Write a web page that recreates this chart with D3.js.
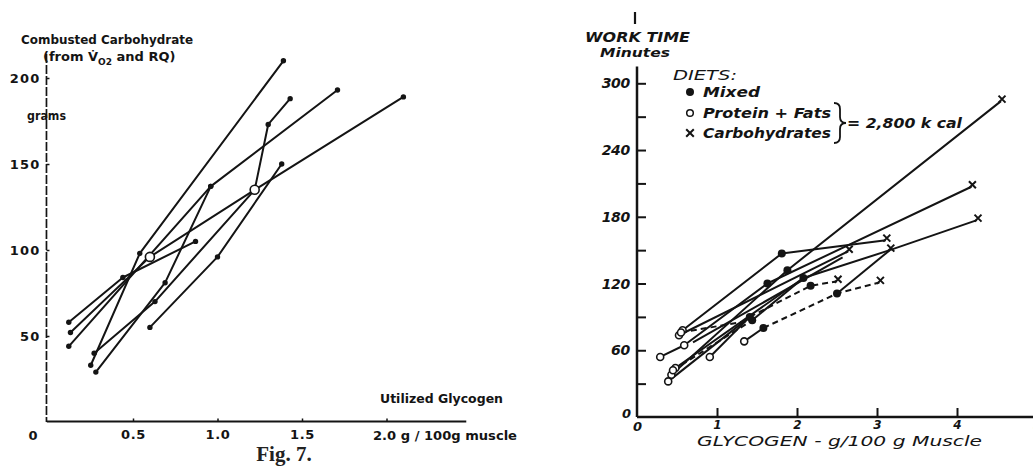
<!DOCTYPE html>
<html><head><meta charset="utf-8">
<script src="https://cdn.jsdelivr.net/npm/d3@7"></script>
<style>
html,body{margin:0;padding:0;background:#fff;}
svg{display:block;}
</style></head><body>
<svg id="c" width="1033" height="476"></svg>
<script>
// ================= LEFT PANEL (Fig. 7) =================
const leftXTicks = [0.5, 1.0, 1.5, 2.0];
const leftXTickLabels = ["0.5", "1.0", "1.5", ""];
const leftYTicks = [50, 100, 150, 200];
// Combusted carbohydrate (grams) vs utilized glycogen (g/100 g muscle)
const leftS1 = [[0.25, 33], [0.54, 98], [1.39, 210]];
const leftS2 = [[0.12, 44], [0.96, 137], [1.71, 193]];
const leftS3 = [[0.12, 58], [0.44, 84], [0.87, 105]];
const leftS4 = [[0.13, 52], [0.60, 96], [1.22, 135], [2.10, 189]];
const leftS5 = [[0.60, 55], [1.00, 96], [1.38, 150]];
const leftS6 = [[0.27, 40], [0.63, 70], [1.22, 135], [1.30, 173], [1.43, 188]];
const leftS7 = [[0.28, 29], [0.69, 81], [0.96, 137]];
const leftSeries = [leftS1, leftS2, leftS3, leftS4, leftS5, leftS6, leftS7];
const leftOpenPoints = [[0.60, 96], [1.22, 135]];

// ================= RIGHT PANEL =================
const rightXTicks = [1, 2, 3, 4, 5];
const rightYTicks = [30, 60, 90, 120, 150, 180, 210, 240, 270, 300];
const rightYLabels = [60, 120, 180, 240, 300];
const dietLabels = ["Mixed", "Protein + Fats", "Carbohydrates"];
// [glycogen, work time, diet]  p = protein+fats, m = mixed, c = carbohydrates
const subjA = [[0.57, 78, "p"], [1.81, 147, "m"], [3.11, 159, "c"]];
const subjB = [[0.43, 38, "p"], [1.88, 132, "m"], [4.55, 284, "c"]];
const subjC = [[0.29, 54, "p"], [0.59, 64.5, "p"], [1.63, 120, "m"], [4.18, 207, "c"]];
const subjD = [[0.525, 73.5, "p"], [2.64, 149, "c"]];
const subjE = [[0.70, 67, null], [2.57, 143.5, null]];
const subjF = [[0.48, 44, "p"], [2.08, 125, "m"], [3.16, 150, "c"], [4.25, 177, "c"]];
const subjG1 = [[1.34, 68, "p"], [1.58, 80, "m"]];
const subjG2 = [[1.58, 80, null], [2.50, 111, "m"], [3.03, 121, "c"]];
const subjH = [[2.50, 111, null], [3.16, 150, null]];
const subjI1 = [[0.91, 54, "p"], [1.41, 90, "m"]];
const subjI2 = [[1.41, 90, null], [2.17, 118, "m"], [2.50, 122, "c"]];
const subjJ1 = [[0.55, 76, "p"], [1.44, 87, "m"]];
const subjJ2 = [[1.44, 87, null], [2.08, 125, null]];
const subjK = [[0.39, 32, "p"], [1.41, 90, null]];
const subjL = [[0.45, 42, "p"], [1.44, 87, null]];
const rightSolid = [subjA, subjB, subjC, subjD, subjE, subjF, subjG1, subjH, subjI1, subjJ2, subjK];
const rightDashed = [subjG2, subjI2, subjJ1, subjL];

const svg = d3.select("#c");
const ink = "#141414";

// ---------- left scales ----------
const xL = d3.scaleLinear().domain([0, 2.5]).range([48.5, 471]);
const yL = d3.scaleLinear().domain([0, 200]).range([422, 78]);
const gL = svg.append("g");
const LF = "'DejaVu Sans', sans-serif";

gL.append("line").attr("x1", xL(-0.01)).attr("x2", xL(2.472)).attr("y1", yL(0.3)).attr("y2", yL(0.3))
  .attr("stroke", ink).attr("stroke-width", 2);
gL.append("line").attr("x1", xL(-0.012)).attr("x2", xL(-0.012)).attr("y1", yL(214)).attr("y2", yL(0))
  .attr("stroke", ink).attr("stroke-width", 1.7).attr("stroke-dasharray", "9,2");

const yAxL = d3.axisLeft(yL).tickValues(leftYTicks).tickSize(-3).tickPadding(6).tickFormat(d3.format("d"));
gL.append("g").attr("transform", `translate(${xL(-0.012)},0)`).call(yAxL)
  .call(g => g.select(".domain").remove())
  .call(g => g.selectAll("line").attr("stroke", ink).attr("stroke-width", 1.5))
  .call(g => g.selectAll("text").attr("font-family", LF).attr("font-weight", "bold").attr("font-size", 13).attr("fill", ink).attr("letter-spacing", 1.2));

const xAxL = d3.axisBottom(xL).tickValues(leftXTicks).tickSize(-3).tickPadding(8)
  .tickFormat((d, i) => leftXTickLabels[i]);
gL.append("g").attr("transform", `translate(0,${yL(0.3)})`).call(xAxL)
  .call(g => g.select(".domain").remove())
  .call(g => g.selectAll("line").attr("stroke", ink).attr("stroke-width", 1.5))
  .call(g => g.selectAll("text").attr("font-family", LF).attr("font-weight", "bold").attr("font-size", 13).attr("fill", ink).attr("letter-spacing", 0.6));

function lt(x, y, s, size, len, anchor) {
  const t = gL.append("text").attr("x", x).attr("y", y).attr("font-family", LF).attr("font-weight", "bold")
    .attr("font-size", size).attr("fill", ink).text(s);
  if (len) t.attr("textLength", len).attr("lengthAdjust", "spacingAndGlyphs");
  if (anchor) t.attr("text-anchor", anchor);
  return t;
}
lt(33, 440, "0", 13, null, "middle");
lt(373, 440, "2.0 g / 100g muscle", 13, 144);
lt(21, 44, "Combusted Carbohydrate", 13, 172);
const sub = gL.append("text").attr("x", 43).attr("y", 61).attr("font-family", LF).attr("font-weight", "bold")
  .attr("font-size", 13).attr("fill", ink);
sub.append("tspan").text("(from V\u0307");
sub.append("tspan").attr("dy", 4).attr("font-size", 9).text("O2");
sub.append("tspan").attr("dy", -4).text(" and RQ)");
lt(27, 120, "grams", 11.5, 39);
lt(380, 403, "Utilized Glycogen", 12.5, 123);
gL.append("text").attr("x", 284).attr("y", 461).attr("text-anchor", "middle")
  .attr("font-family", "'Liberation Serif', 'DejaVu Serif', serif").attr("font-weight", "bold")
  .attr("font-size", 21).attr("fill", "#222").text("Fig. 7.");

const lineL = d3.line().x(d => xL(d[0])).y(d => yL(d[1]));
gL.selectAll("path.ls").data(leftSeries).join("path").attr("class", "ls")
  .attr("d", lineL).attr("fill", "none").attr("stroke", ink).attr("stroke-width", 2).attr("stroke-linejoin", "round");
gL.selectAll("circle.ld").data(leftSeries.flat()).join("circle").attr("class", "ld")
  .attr("cx", d => xL(d[0])).attr("cy", d => yL(d[1])).attr("r", 2.7).attr("fill", ink);
gL.selectAll("circle.lo").data(leftOpenPoints).join("circle").attr("class", "lo")
  .attr("cx", d => xL(d[0])).attr("cy", d => yL(d[1])).attr("r", 4.5).attr("fill", "#fff").attr("stroke", ink).attr("stroke-width", 1.6);

// ---------- right scales ----------
const xR = d3.scaleLinear().domain([0, 5]).range([637, 1037]);
const yR = d3.scaleLinear().domain([0, 300]).range([417, 83.3]);
const gR = svg.append("g");
const RF = "'DejaVu Sans', sans-serif";

gR.append("line").attr("x1", xR(0)).attr("x2", 1033).attr("y1", yR(0)).attr("y2", yR(0))
  .attr("stroke", ink).attr("stroke-width", 2.5);
gR.append("line").attr("x1", xR(0)).attr("x2", xR(0)).attr("y1", yR(315)).attr("y2", yR(0))
  .attr("stroke", ink).attr("stroke-width", 2.5);
gR.append("line").attr("x1", xR(-0.025)).attr("x2", xR(-0.025)).attr("y1", 12).attr("y2", 24)
  .attr("stroke", ink).attr("stroke-width", 2.2);

const yAxR = d3.axisLeft(yR).tickValues(rightYTicks).tickSizeInner(-9).tickSizeOuter(0).tickPadding(7)
  .tickFormat(d => rightYLabels.includes(d) ? d : "");
gR.append("g").attr("transform", `translate(${xR(0)},0)`).call(yAxR)
  .call(g => g.select(".domain").remove())
  .call(g => g.selectAll("line").attr("stroke", ink).attr("stroke-width", 2))
  .call(g => g.selectAll("text").attr("font-family", RF).attr("font-style", "italic").attr("font-weight", "bold")
    .attr("font-size", 14).attr("fill", ink).attr("letter-spacing", -0.3));

const xAxR = d3.axisBottom(xR).tickValues(rightXTicks).tickSizeInner(-9).tickSizeOuter(0).tickPadding(3)
  .tickFormat(d3.format("d"));
gR.append("g").attr("transform", `translate(0,${yR(0)})`).call(xAxR)
  .call(g => g.select(".domain").remove())
  .call(g => g.selectAll("line").attr("stroke", ink).attr("stroke-width", 2))
  .call(g => g.selectAll("text").attr("font-family", RF).attr("font-style", "italic").attr("font-weight", "bold")
    .attr("font-size", 12).attr("fill", ink));

function rt(x, y, s, size, len, weight, anchor) {
  const t = gR.append("text").attr("x", x).attr("y", y).attr("font-family", RF).attr("font-style", "italic")
    .attr("font-weight", weight || "normal").attr("font-size", size).attr("fill", ink).text(s);
  if (len) t.attr("textLength", len).attr("lengthAdjust", "spacingAndGlyphs");
  if (anchor) t.attr("text-anchor", anchor);
  return t;
}
rt(622, 418, "0", 13, null, "bold");
rt(633, 431, "0", 13, null, "bold");
rt(585, 42, "WORK TIME", 14, 105, "bold");
rt(600, 57, "Minutes", 13, 70, "bold");
rt(673, 80, "DIETS:", 14, 64, "normal");
rt(703, 97, dietLabels[0], 14, 57, "bold");
rt(703, 118, dietLabels[1], 14, 128, "bold");
rt(703, 138, dietLabels[2], 14, 128, "bold");
rt(847, 128, "= 2,800 k cal", 14, 115, "bold");
rt(697, 446, "GLYCOGEN - g/100 g Muscle", 13.5, 285, "normal");

// legend markers
gR.append("circle").attr("cx", 690).attr("cy", 92).attr("r", 4).attr("fill", ink);
gR.append("circle").attr("cx", 690).attr("cy", 113).attr("r", 3.3).attr("fill", "#fff").attr("stroke", ink).attr("stroke-width", 1.5);
function cross(g, x, y, s) {
  g.append("path").attr("d", `M${x - s},${y - s}L${x + s},${y + s}M${x + s},${y - s}L${x - s},${y + s}`)
    .attr("stroke", ink).attr("stroke-width", 2).attr("fill", "none");
}
cross(gR, 690, 133, 3.8);
gR.append("path")
  .attr("d", "M834,103 Q840,103 840,109 L840,117 Q840,123 846,123 Q840,123 840,129 L840,137 Q840,143 834,143")
  .attr("fill", "none").attr("stroke", ink).attr("stroke-width", 1.8);

const lineR = d3.line().x(d => xR(d[0])).y(d => yR(d[1]));
gR.selectAll("path.rs").data(rightSolid).join("path").attr("class", "rs")
  .attr("d", lineR).attr("fill", "none").attr("stroke", ink).attr("stroke-width", 2).attr("stroke-linejoin", "round");
gR.selectAll("path.rd").data(rightDashed).join("path").attr("class", "rd")
  .attr("d", lineR).attr("fill", "none").attr("stroke", ink).attr("stroke-width", 2).attr("stroke-dasharray", "6,4");

const allR = rightSolid.concat(rightDashed).flat().filter(d => d[2]);
gR.selectAll("circle.rm").data(allR.filter(d => d[2] === "m")).join("circle").attr("class", "rm")
  .attr("cx", d => xR(d[0])).attr("cy", d => yR(d[1])).attr("r", 4).attr("fill", ink);
gR.selectAll("circle.rp").data(allR.filter(d => d[2] === "p")).join("circle").attr("class", "rp")
  .attr("cx", d => xR(d[0])).attr("cy", d => yR(d[1])).attr("r", 3.5).attr("fill", "#fff").attr("stroke", ink).attr("stroke-width", 1.6);
allR.filter(d => d[2] === "c").forEach(d => cross(gR, xR(d[0]) + 1, yR(d[1]) - 2, 3.5));
</script>
</body></html>
